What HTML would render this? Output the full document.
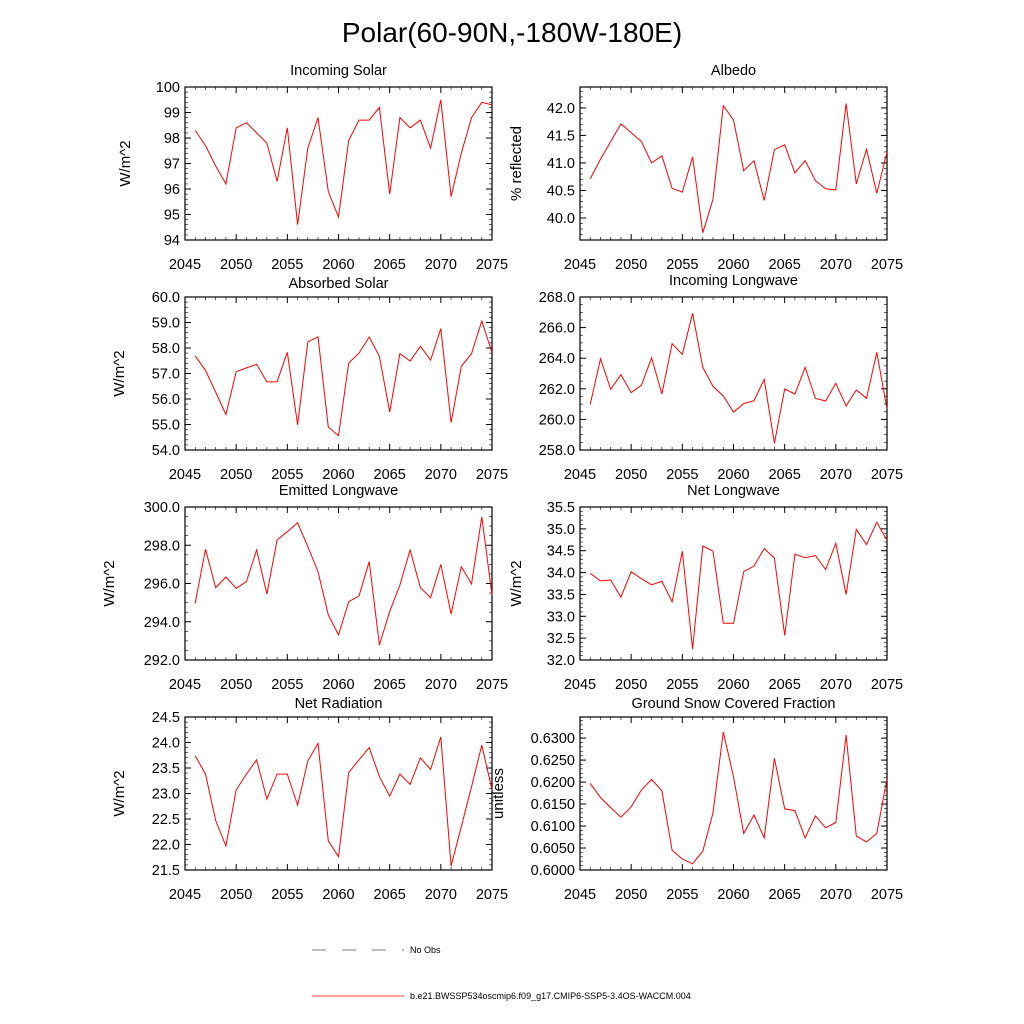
<!DOCTYPE html>
<html><head><meta charset="utf-8"><style>
html,body{margin:0;padding:0;background:#fff;}
svg{display:block;font-family:"Liberation Sans",Arial,sans-serif;}
</style></head><body>
<svg id="c" width="1024" height="1024" viewBox="0 0 1024 1024">
<text x="512" y="42" text-anchor="middle" font-size="28">Polar(60-90N,-180W-180E)</text>
<g>
<line x1="312" y1="950" x2="404" y2="950" stroke="#555" stroke-width="0.8" stroke-dasharray="14,16"/>
<text x="410" y="953" font-size="9">No Obs</text>
<line x1="312" y1="996" x2="404" y2="996" stroke="red" stroke-width="0.8"/>
<text x="410" y="999" font-size="9">b.e21.BWSSP534oscmip6.f09_g17.CMIP6-SSP5-3.4OS-WACCM.004</text>
</g>
</svg>
<script>
const years=[2046,2047,2048,2049,2050,2051,2052,2053,2054,2055,2056,2057,2058,2059,2060,2061,2062,2063,2064,2065,2066,2067,2068,2069,2070,2071,2072,2073,2074,2075];
const xTicks=[2045,2050,2055,2060,2065,2070,2075];
const incomingSolar=[98.3,97.7,96.9,96.2,98.4,98.6,98.2,97.8,96.3,98.4,94.6,97.6,98.8,95.9,94.9,97.9,98.7,98.7,99.2,95.8,98.8,98.4,98.7,97.6,99.5,95.7,97.4,98.8,99.4,99.3];
const albedo=[40.71,41.07,41.39,41.71,41.55,41.39,41.0,41.13,40.54,40.47,41.11,39.73,40.34,42.04,41.78,40.86,41.04,40.32,41.24,41.33,40.82,41.04,40.68,40.53,40.51,42.08,40.62,41.25,40.45,41.2];
const absorbedSolar=[57.69,57.12,56.27,55.39,57.07,57.22,57.36,56.67,56.68,57.83,54.99,58.24,58.44,54.90,54.56,57.41,57.80,58.43,57.67,55.49,57.78,57.49,58.07,57.52,58.76,55.07,57.28,57.78,59.06,57.82];
const incomingLW=[260.98,263.97,261.97,262.92,261.75,262.23,264.03,261.66,264.95,264.25,266.93,263.40,262.16,261.53,260.48,261.03,261.22,262.62,258.44,261.99,261.66,263.40,261.38,261.20,262.36,260.88,261.92,261.38,264.38,260.68];
const emittedLW=[294.97,297.79,295.78,296.34,295.75,296.10,297.75,295.45,298.28,298.71,299.18,297.93,296.62,294.36,293.31,295.05,295.35,297.14,292.79,294.53,295.92,297.75,295.78,295.26,297.00,294.41,296.88,295.98,299.49,295.40];
const netLW=[33.98,33.81,33.83,33.44,34.02,33.86,33.72,33.80,33.33,34.49,32.25,34.61,34.49,32.84,32.84,34.02,34.15,34.55,34.33,32.56,34.42,34.34,34.39,34.07,34.67,33.50,34.99,34.64,35.15,34.74];
const netRad=[23.74,23.38,22.47,21.97,23.07,23.38,23.66,22.89,23.38,23.38,22.77,23.64,23.98,22.07,21.76,23.41,23.66,23.90,23.33,22.95,23.38,23.18,23.70,23.47,24.11,21.58,22.35,23.13,23.95,23.07];
const snowFrac=[0.6197,0.6165,0.6142,0.6120,0.6144,0.6182,0.6206,0.6180,0.6045,0.6025,0.6014,0.6043,0.6130,0.6314,0.6212,0.6083,0.6125,0.6073,0.6254,0.6139,0.6135,0.6073,0.6123,0.6096,0.6108,0.6307,0.6077,0.6064,0.6083,0.6208];
const yTicksIS=["94","95","96","97","98","99","100"];
const yTicksAL=["40.0","40.5","41.0","41.5","42.0"];
const yTicksAS=["54.0","55.0","56.0","57.0","58.0","59.0","60.0"];
const yTicksIL=["258.0","260.0","262.0","264.0","266.0","268.0"];
const yTicksEL=["292.0","294.0","296.0","298.0","300.0"];
const yTicksNL=["32.0","32.5","33.0","33.5","34.0","34.5","35.0","35.5"];
const yTicksNR=["21.5","22.0","22.5","23.0","23.5","24.0","24.5"];
const yTicksSF=["0.6000","0.6050","0.6100","0.6150","0.6200","0.6250","0.6300"];

const NS='http://www.w3.org/2000/svg';
const svg=document.getElementById('c');
function mk(tag,attrs,parent){const e=document.createElementNS(NS,tag);for(const k in attrs)e.setAttribute(k,attrs[k]);(parent||svg).appendChild(e);return e;}

const panels=[
 {key:'incoming-solar',title:'Incoming Solar',ylab:'W/m^2',x0:185,y0:87,data:incomingSolar,ymin:94,ymax:100,ticks:yTicksIS,minor:0.2,ylx:130,ty:75},
 {key:'albedo',title:'Albedo',ylab:'% reflected',x0:580,y0:87,data:albedo,ymin:39.6,ymax:42.38,ticks:yTicksAL,minor:0.1,ylx:521,ty:75},
 {key:'absorbed-solar',title:'Absorbed Solar',ylab:'W/m^2',x0:185,y0:297,data:absorbedSolar,ymin:54,ymax:60,ticks:yTicksAS,minor:0.2,ylx:124,ty:288},
 {key:'incoming-longwave',title:'Incoming Longwave',ylab:'',x0:580,y0:297,data:incomingLW,ymin:258,ymax:268,ticks:yTicksIL,minor:0.5,ylx:520,ty:285},
 {key:'emitted-longwave',title:'Emitted Longwave',ylab:'W/m^2',x0:185,y0:507,data:emittedLW,ymin:292,ymax:300,ticks:yTicksEL,minor:0.5,ylx:114,ty:495},
 {key:'net-longwave',title:'Net Longwave',ylab:'W/m^2',x0:580,y0:507,data:netLW,ymin:32,ymax:35.5,ticks:yTicksNL,minor:0.1,ylx:521,ty:495},
 {key:'net-radiation',title:'Net Radiation',ylab:'W/m^2',x0:185,y0:717,data:netRad,ymin:21.5,ymax:24.5,ticks:yTicksNR,minor:0.1,ylx:124,ty:708},
 {key:'snow-fraction',title:'Ground Snow Covered Fraction',ylab:'unitless',x0:580,y0:717,data:snowFrac,ymin:0.6,ymax:0.6348,ticks:yTicksSF,minor:0.001,ylx:503,ty:708},
];
const W=307,H=153;
panels.forEach(p=>{
 const g=mk('g',{});
 
 
 const xs=v=>p.x0+(v-2045)/30*W;
 const ys=v=>p.y0+H-(v-p.ymin)/(p.ymax-p.ymin)*H;
 const t=mk('text',{x:p.x0+W/2,y:p.ty,'text-anchor':'middle','font-size':'14.5'},g);
 t.textContent=p.title;
 
 
 const lo=Math.ceil(p.ymin/p.minor-1e-6),hi=Math.floor(p.ymax/p.minor+1e-6);
 for(let i=lo;i<=hi;i++){const y=ys(i*p.minor);
  mk('line',{x1:p.x0,x2:p.x0+3,y1:y,y2:y,stroke:'#000','stroke-width':0.6},g);
  mk('line',{x1:p.x0+W,x2:p.x0+W-3,y1:y,y2:y,stroke:'#000','stroke-width':0.6},g);}
 p.ticks.forEach(s=>{const v=parseFloat(s),y=ys(v);
  mk('line',{x1:p.x0,x2:p.x0+6,y1:y,y2:y,stroke:'#000','stroke-width':1},g);
  mk('line',{x1:p.x0+W,x2:p.x0+W-6,y1:y,y2:y,stroke:'#000','stroke-width':1},g);
  const tl=mk('text',{x:p.x0-5,y:y+5,'text-anchor':'end','font-size':'14.5'},g);tl.textContent=s;
  
  });
 for(let yr=2045;yr<=2075;yr++){const x=xs(yr),maj=yr%5===0,L=maj?6:3;
  mk('line',{x1:x,x2:x,y1:p.y0+H,y2:p.y0+H-L,stroke:'#000','stroke-width':maj?1:0.6},g);
  mk('line',{x1:x,x2:x,y1:p.y0,y2:p.y0+L,stroke:'#000','stroke-width':maj?1:0.6},g);}
 xTicks.forEach(yr=>{const tl=mk('text',{x:xs(yr),y:p.y0+H+29,'text-anchor':'middle','font-size':'14.5'},g);tl.textContent=yr;
  
  });
 mk('rect',{x:p.x0,y:p.y0,width:W,height:H,fill:'none',stroke:'#000','stroke-width':1.2},g);
 if(p.ylab){const yt=mk('text',{x:p.ylx,y:p.y0+H/2,'text-anchor':'middle','font-size':'15',transform:`rotate(-90 ${p.ylx} ${p.y0+H/2})`},g);yt.textContent=p.ylab;
  
  }
 const pts=p.data.map((v,i)=>xs(years[i]).toFixed(1)+','+ys(v).toFixed(1)).join(' ');
 const ln=mk('polyline',{points:pts,fill:'none',stroke:'red','stroke-width':1},g);
 
 
});
</script>
</body></html>
